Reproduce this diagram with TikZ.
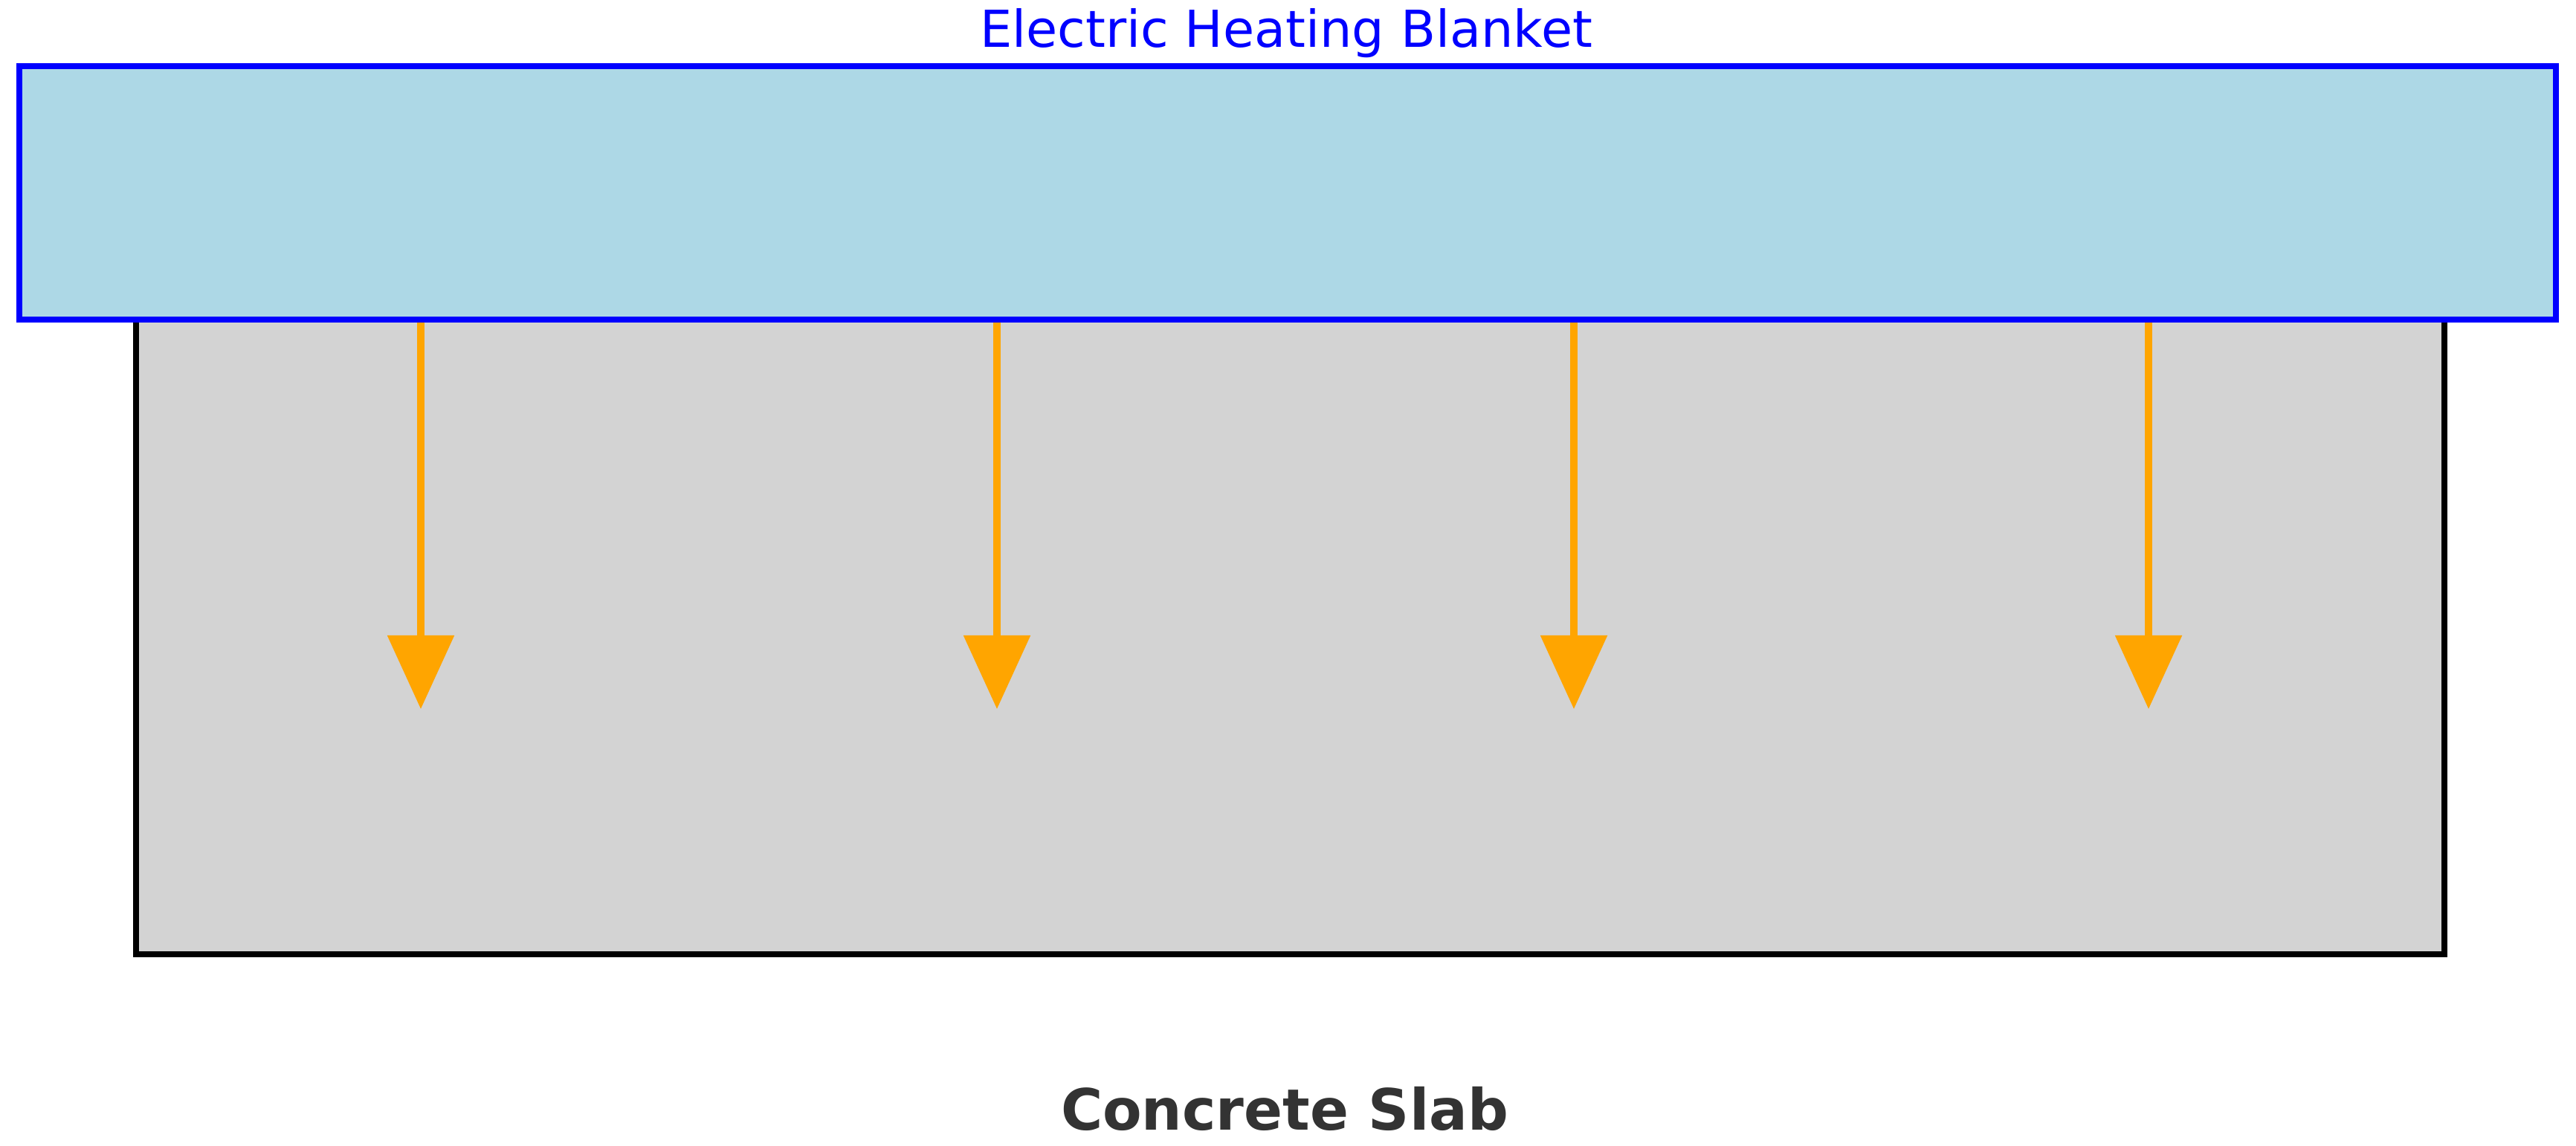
\documentclass[tikz,border=0pt]{standalone}
\usepackage{fontspec}
\setmainfont{DejaVu Sans}
\usetikzlibrary{arrows.meta}
\definecolor{blanketfill}{HTML}{ADD8E6}
\definecolor{slabfill}{HTML}{D3D3D3}
\definecolor{heatorange}{HTML}{FFA500}
\definecolor{labelgray}{HTML}{333333}
\tikzset{
  blanketbox/.style={draw=blue, fill=blanketfill, line width=2.4pt, inner sep=0pt, anchor=south west},
  slabbox/.style={draw=black, fill=slabfill, line width=2.2pt, inner sep=0pt, anchor=south west},
  heatarrow/.style={draw=heatorange, line width=2.6pt, -{Triangle[length=0.99cm, width=0.88cm, fill=heatorange]}},
}
\begin{document}
\begin{tikzpicture}
\useasboundingbox (0,0) rectangle (34.65,15.41);
\fill[white] (0,0) rectangle (34.65,15.41);
\node[slabbox, minimum width=31.05cm, minimum height=8.75cm] (slab) at (1.79,2.53) {};
\node[blanketbox, minimum width=34.12cm, minimum height=3.41cm] (blanket) at (0.22,11.07) {};
\node[anchor=base, text=blue, font=\fontsize{19.5}{23}\selectfont] (blabel) at (17.3,14.77) {Electric Heating Blanket};
\node[anchor=base, text=labelgray, font=\fontsize{21.8}{26}\selectfont\bfseries] (slabel) at (17.28,0.21) {Concrete Slab};
\foreach \i/\x in {1/5.66, 2/13.41, 3/21.17, 4/28.90} {
  \coordinate (s\i) at (\x,11.07);
  \coordinate (t\i) at (\x,5.87);
  \draw[heatarrow] (s\i) -- (t\i);
}
\end{tikzpicture}
\end{document}
